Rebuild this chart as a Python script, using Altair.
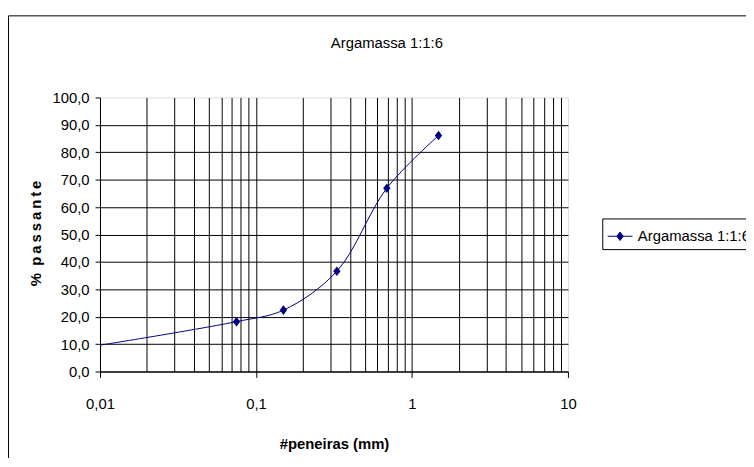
import altair as alt
import pandas as pd

# ---- data ----
serie = "Argamassa 1:1:6"
abertura_mm = [0.01, 0.075, 0.15, 0.33, 0.69, 1.48]
passante_pct = [9.6, 18.2, 22.4, 36.6, 66.9, 86.1]
marcador = [False, True, True, True, True, True]

x_majors = [0.01, 0.1, 1, 10]
x_gridvals = [round(m * d, 6) for d in [0.01, 0.1, 1] for m in range(1, 10)] + [10]
y_ticks = [float(v) for v in range(0, 101, 10)]

FONT = "Liberation Sans"
NAVY = "#000080"

df = pd.DataFrame({"abertura": abertura_mm, "passante": passante_pct,
                   "marcador": marcador, "serie": serie})
frame_df = pd.DataFrame({"k": [0]})

major_test = "abs(log(datum.value)/LN10 - round(log(datum.value)/LN10)) < 0.001"

x_enc = alt.X(
    "abertura:Q",
    scale=alt.Scale(type="log", domain=[0.01, 10], nice=False),
    axis=alt.Axis(
        values=x_gridvals,
        grid=True, gridColor="black", gridWidth=1,
        gridOpacity={"condition": {"test": "datum.value >= 9.99", "value": 0}, "value": 1},
        tickOpacity={"condition": {"test": major_test, "value": 1}, "value": 0},
        tickSize=6, tickColor="black", domainColor="black",
        labelExpr="(" + major_test + ") ? replace(toString(datum.value), '.', ',') : ''",
        labelOverlap=False, labelFlush=False,
        labelFont=FONT, labelFontSize=15, labelColor="black", labelPadding=19,
        title="#peneiras (mm)", titleFont=FONT, titleFontSize=15, titleFontWeight="bold",
        titleColor="black", titleY=73, titleBaseline="middle",
    ),
)

y_enc = alt.Y(
    "passante:Q",
    scale=alt.Scale(domain=[0, 100], nice=False),
    axis=alt.Axis(
        values=y_ticks, tickCount=11,
        grid=True, gridColor="black", gridWidth=1,
        gridOpacity={"condition": {"test": "datum.value >= 100", "value": 0}, "value": 1},
        tickSize=5, tickColor="black", domainColor="black",
        labelExpr="replace(format(datum.value, '.1f'), '.', ',')",
        labelOverlap=False, labelFlush=False,
        labelFont=FONT, labelFontSize=15, labelColor="black", labelPadding=6,
        title="%\u2002p\u2009a\u2009s\u2009s\u2009a\u2009n\u2009t\u2009e",
        titleFont=FONT, titleFontSize=15, titleFontWeight="bold", titleColor="black",
        titleAngle=270, titleX=-65, titleY=137, titleAlign="center", titleBaseline="middle",
    ),
)

frame = alt.Chart(frame_df).mark_rect(filled=False, stroke="black", strokeWidth=1).encode(
    x=alt.value(-92.5), x2=alt.value(900), y=alt.value(-82.5), y2=alt.value(700)
)

line = alt.Chart(df).mark_line(interpolate="catmull-rom", strokeWidth=1).encode(
    x=x_enc, y=y_enc,
    color=alt.Color(
        "serie:N",
        scale=alt.Scale(domain=[serie], range=[NAVY]),
        legend=alt.Legend(
            title=None, orient="none", legendX=507.7, legendY=122.3,
            padding=5, strokeColor="black", fillColor="white", cornerRadius=0,
            symbolType="M-1,0L1,0M0,-0.34L0.26,0L0,0.34L-0.26,0Z",
            symbolSize=625, symbolStrokeWidth=1,
            symbolStrokeColor=NAVY, symbolFillColor=NAVY,
            labelFont=FONT, labelFontSize=15, labelColor="black", labelOffset=5,
            labelLimit=0,
        ),
    ),
)

points = alt.Chart(df).transform_filter("datum.marcador").mark_point(
    filled=True, shape="M0,-1.3L1,0L0,1.3L-1,0Z", size=55, opacity=1, color=NAVY
).encode(x=x_enc, y=y_enc)

chart = alt.layer(frame, line, points).properties(
    width=473, height=277,
    autosize=alt.AutoSizeParams(type="none"),
    padding={"left": 93, "top": 88, "right": 180, "bottom": 85},
    title=alt.TitleParams(
        serie, font=FONT, fontSize=15, fontWeight="normal", color="black",
        anchor="middle", frame="group", dx=53.5, offset=-42.5, baseline="middle",
    ),
).configure_view(stroke="#808080", strokeWidth=1).configure(background="white")

chart.save("out.html", embed_options={"renderer": "svg", "actions": False})
